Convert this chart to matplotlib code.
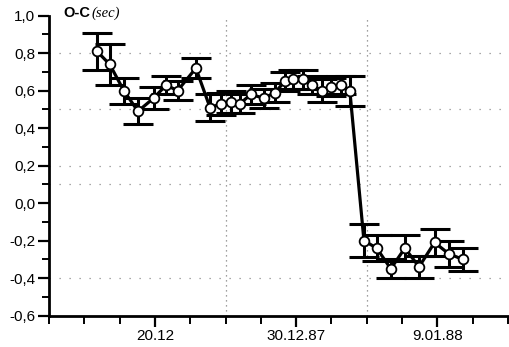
import matplotlib
matplotlib.use("Agg")
import matplotlib.pyplot as plt
from matplotlib.ticker import MultipleLocator, FixedLocator, FuncFormatter

# days counted from 20.12.87
days = [-4.1, -3.2, -2.2, -1.2, -0.1, 0.8, 1.6, 2.9, 3.9, 4.7, 5.4, 6.0,
        6.8, 7.7, 8.5, 9.2, 9.8, 10.5, 11.1, 11.8, 12.5, 13.2, 13.8,
        14.8, 15.7, 16.7, 17.7, 18.7, 19.8, 20.8, 21.8]
o_c = [0.81, 0.74, 0.60, 0.49, 0.56, 0.63, 0.60, 0.72, 0.51, 0.53, 0.54, 0.53,
       0.58, 0.56, 0.59, 0.65, 0.66, 0.66, 0.63, 0.60, 0.62, 0.63, 0.60,
       -0.20, -0.24, -0.35, -0.24, -0.34, -0.21, -0.27, -0.30]
o_c_err = [0.10, 0.11, 0.07, 0.07, 0.06, 0.05, 0.05, 0.055, 0.07, 0.06, 0.06, 0.05,
           0.05, 0.05, 0.05, 0.05, 0.05, 0.05, 0.05, 0.06, 0.05, 0.05, 0.08,
           0.09, 0.07, 0.05, 0.07, 0.06, 0.07, 0.07, 0.06]

tick_days = [0, 10, 20]
tick_labels = ["20.12", "30.12.87", "9.01.88"]

# sparse dotted grid lines as seen in the scan
grid_y = [0.8, 0.5, 0.2, 0.1, -0.4]
grid_x = [5, 15]

fig = plt.figure(figsize=(5.09, 3.47), dpi=100)
ax = fig.add_axes([49 / 509, 1 - 315.6 / 347, (508 - 49) / 509, (315.6 - 15.7) / 347])

for gy in grid_y:
    ax.axhline(gy, color="0.55", lw=0.9, linestyle=(0, (1, 7)), zorder=0)
for gx in grid_x:
    ax.axvline(gx, color="0.5", lw=0.9, linestyle=(0, (1, 3)), zorder=0)

ax.errorbar(days, o_c, yerr=o_c_err, fmt="none", ecolor="black", elinewidth=2.2,
            capsize=11, capthick=2.2, zorder=2)
ax.plot(days, o_c, color="black", lw=2.3, zorder=3)
ax.plot(days, o_c, linestyle="none", marker="o", ms=7, mfc="white", mec="black",
        mew=1.3, zorder=4)

ax.set_xlim(-7.5, 25)
ax.set_ylim(-0.6, 1.0)

ax.spines["top"].set_visible(False)
ax.spines["right"].set_visible(False)
ax.spines["left"].set_linewidth(2)
ax.spines["bottom"].set_linewidth(2)

ax.xaxis.set_major_locator(FixedLocator(tick_days))
ax.set_xticklabels(tick_labels)
ax.xaxis.set_minor_locator(MultipleLocator(2.5))
ax.yaxis.set_major_locator(MultipleLocator(0.2))
ax.yaxis.set_minor_locator(MultipleLocator(0.1))
ax.yaxis.set_major_formatter(FuncFormatter(lambda v, p: f"{v:.1f}".replace(".", ",")))

ax.tick_params(axis="both", which="major", direction="out", length=8, width=1.6,
               labelsize=11, pad=2)
ax.tick_params(axis="both", which="minor", direction="out", length=6, width=1.4)
ax.tick_params(axis="y", which="minor", length=5)
for lab in ax.get_xticklabels() + ax.get_yticklabels():
    lab.set_fontfamily("Liberation Sans")

fig.text(63 / 509, 1 - 13 / 347, "O-C", fontsize=10.5, fontweight="bold",
         family="Liberation Sans", va="center", ha="left")
fig.text(91 / 509, 1 - 13 / 347, "(sec)", fontsize=10.5, style="italic",
         family="Liberation Serif", va="center", ha="left")

fig.savefig("out.png", dpi=100)
